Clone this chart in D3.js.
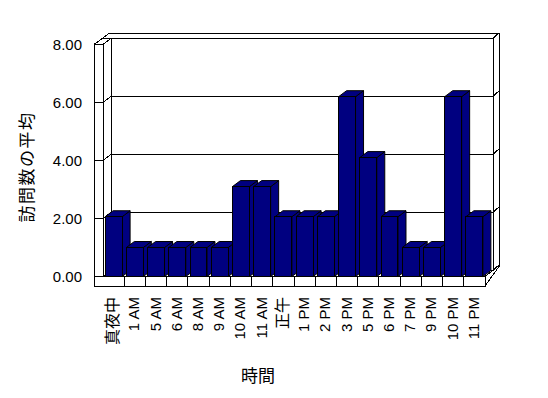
<!DOCTYPE html>
<html>
<head>
<meta charset="utf-8">
<script src="https://cdn.jsdelivr.net/npm/d3@7"></script>
<style>
  body { margin: 0; background: #fff; }
  text { font-family: "Liberation Sans", Arial, "Noto Sans CJK JP", sans-serif; fill: #000; }
</style>
</head>
<body>
<div id="chart"></div>
<script>
const categories = ["真夜中", "1 AM", "5 AM", "6 AM", "8 AM", "9 AM", "10 AM", "11 AM", "正午",
  "1 PM", "2 PM", "3 PM", "5 PM", "6 PM", "7 PM", "9 PM", "10 PM", "11 PM"];
const visits = [2.06, 1.0, 1.0, 1.0, 1.0, 1.0, 3.1, 3.1, 2.06,
  2.06, 2.06, 6.2, 4.1, 2.06, 1.0, 1.0, 6.2, 2.06];
const yTicks = [0, 2, 4, 6, 8];
const yTitle = "訪問数の平均";
const xTitle = "時間";

const W = 548, H = 398;
const dx = 8, dy = -6;        // depth of the 3d box
const wallX = 94, floorB = 286; // wall / floor thickness edges

const svg = d3.select("#chart").append("svg")
  .attr("width", W).attr("height", H);

const x = d3.scaleBand().domain(categories).range([103, 485])
  .paddingInner(0.2).paddingOuter(0.1);
const y = d3.scaleLinear().domain([0, 8]).range([276.5, 44.5]);

const line = (pts) => "M" + pts.map(p => p.join(",")).join("L");
const g = svg.append("g").attr("fill", "none").attr("stroke", "#000")
  .attr("stroke-width", 1).attr("shape-rendering", "crispEdges");

const x0 = x.range()[0], x1 = x.range()[1];
const yTop = y(8), yBot = y(0);

// back wall face
g.append("rect").attr("x", x0 + dx).attr("y", yTop + dy)
  .attr("width", x1 - x0).attr("height", yBot - yTop);

// gridlines on back wall + ticks on left wall
yTicks.forEach(v => {
  const yy = y(v);
  g.append("path").attr("d", line([[wallX, yy], [x0, yy], [x0 + dx, yy + dy], [x1 + dx, yy + dy], [x1 + dx + 6, yy + dy - 5.7]]));
});

// outer frame and left wall
g.append("path").attr("d", line([[wallX, yTop], [wallX, floorB]]));
g.append("path").attr("d", line([[x0, yTop], [x0, yBot]]));
g.append("path").attr("d", line([[wallX, yTop], [wallX + 15.3, yTop - 11.3], [x1 + dx + 6, yTop - 11.3], [x1 + dx + 6, yBot + dy - 4], [x1, floorB]]));
g.append("path").attr("d", line([[x0 - 1, yTop + dy], [x1 + dx, yTop + dy]]));

// floor
g.append("path").attr("d", line([[x0, yBot], [x1, yBot], [x1 + dx, yBot + dy]]));
g.append("path").attr("d", line([[wallX, floorB], [x1, floorB], [x1, yBot]]));
const step = x.step();
d3.range(1, categories.length).forEach(i => {
  const xx = x0 + step * i;
  g.append("path").attr("d", line([[xx, yBot], [xx, floorB]]));
});

// bars
const bars = svg.append("g").attr("fill", "#000080").attr("stroke", "#000").attr("stroke-width", 1)
  .selectAll("g").data(categories.map((c, i) => ({ c, v: visits[i] }))).join("g");

bars.append("path").attr("d", d => {
  const a = x(d.c), b = a + x.bandwidth(), t = y(d.v);
  return line([[b, t], [b + dx, t + dy], [b + dx, yBot + dy], [b, yBot]]) + "Z";
});
bars.append("path").attr("d", d => {
  const a = x(d.c), b = a + x.bandwidth(), t = y(d.v);
  return line([[a, t], [b, t], [b + dx, t + dy], [a + dx, t + dy]]) + "Z";
});
bars.append("rect").attr("shape-rendering", "crispEdges")
  .attr("x", d => x(d.c)).attr("y", d => y(d.v))
  .attr("width", x.bandwidth()).attr("height", d => yBot - y(d.v));

// y tick labels
svg.append("g").selectAll("text").data(yTicks).join("text")
  .attr("x", 82).attr("y", d => y(d) + 5)
  .attr("text-anchor", "end").attr("font-size", 15)
  .text(d => d.toFixed(2));

// x tick labels
const isCJK = s => /[^\x00-\x7f]/.test(s);
svg.append("g").selectAll("text").data(categories).join("text")
  .attr("transform", d => `translate(${x(d) + x.bandwidth() / 2 - 1},297) rotate(-90)`)
  .attr("text-anchor", "end").attr("dominant-baseline", "central")
  .attr("font-size", d => isCJK(d) ? 16 : 15)
  .attr("fill", "#000")
  .text(d => d);

// axis titles
svg.append("text")
  .attr("transform", "translate(27,167) rotate(-90)")
  .attr("text-anchor", "middle").attr("dominant-baseline", "central")
  .attr("font-size", 17).attr("letter-spacing", 1.5)
  .text(yTitle);

svg.append("text")
  .attr("x", 258).attr("y", 376)
  .attr("text-anchor", "middle").attr("dominant-baseline", "central")
  .attr("font-size", 17)
  .text(xTitle);
</script>
</body>
</html>
